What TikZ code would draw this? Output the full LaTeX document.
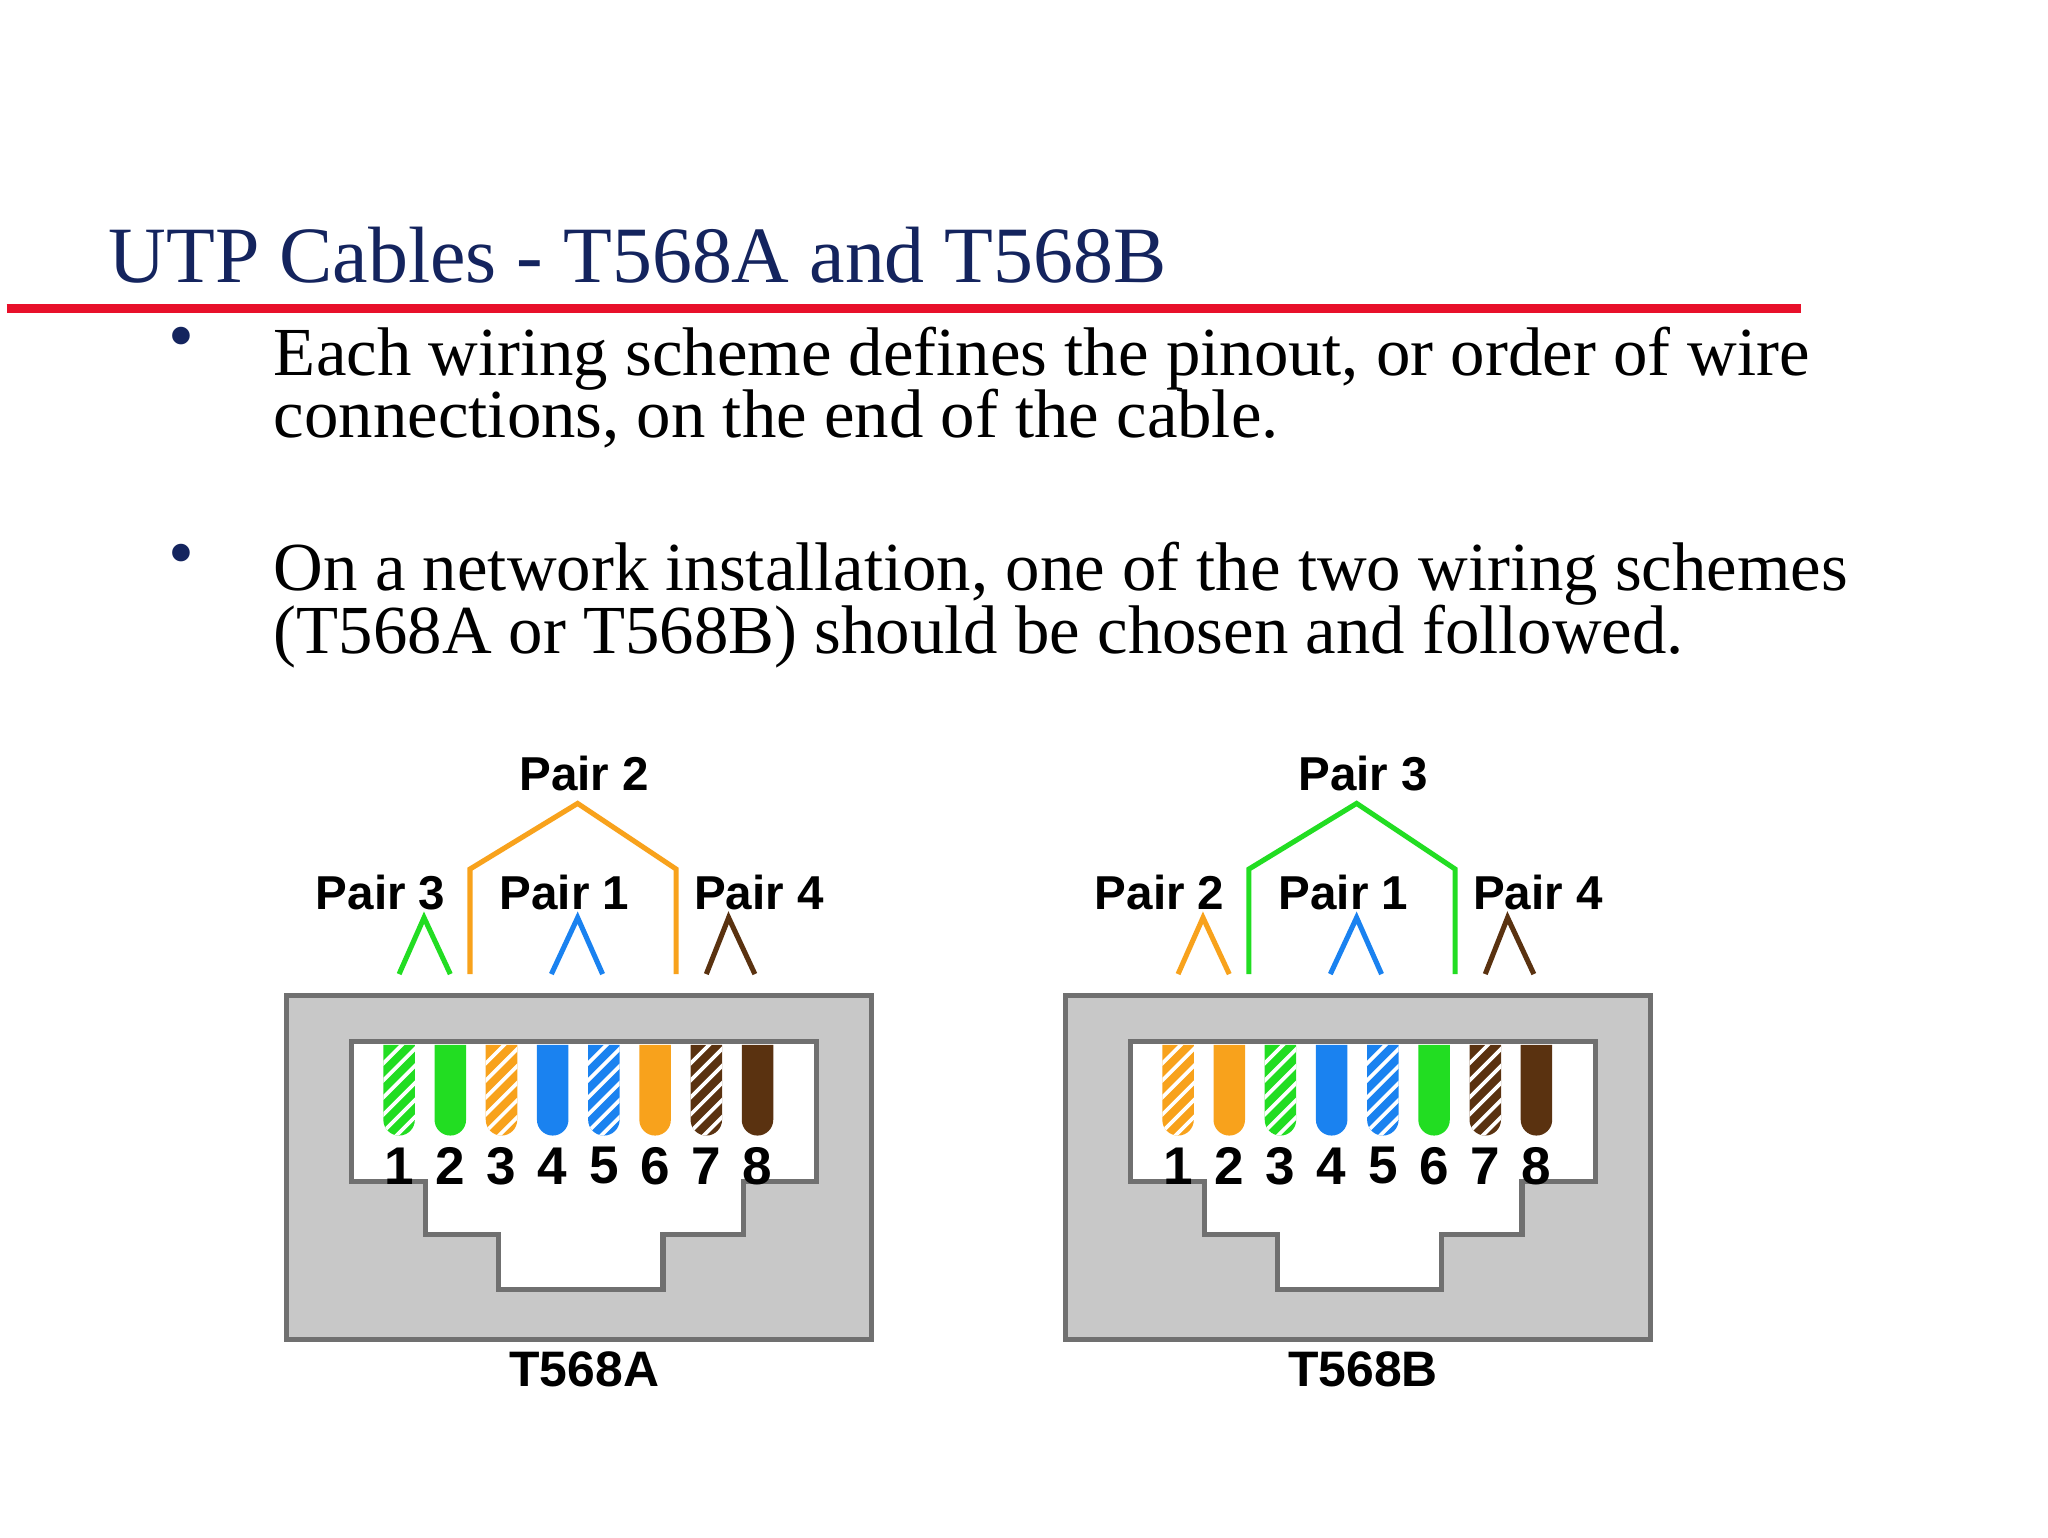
\documentclass[tikz,border=0pt]{standalone}
\usepackage{fontspec}
\setmainfont{Liberation Serif}
\newfontfamily\labelfont{Liberation Sans}
\definecolor{navy}{HTML}{14245E}
\definecolor{redline}{HTML}{E8102A}
\definecolor{wgreen}{HTML}{22DD22}
\definecolor{worange}{HTML}{F8A21C}
\definecolor{wblue}{HTML}{1A82F0}
\definecolor{wbrown}{HTML}{5A3210}
\definecolor{jackgray}{HTML}{C8C8C8}
\definecolor{jackedge}{HTML}{707070}
\tikzset{
  title_style/.style={anchor=base west, inner sep=0, text=navy, font=\fontsize{17.3}{20}\selectfont},
  body_style/.style={anchor=base west, inner sep=0, font=\fontsize{14.9}{15}\selectfont},
  bullet_style/.style={anchor=center, inner sep=0, text=navy, font=\fontsize{16}{16}\selectfont},
  pair_style/.style={inner sep=0, font=\labelfont\bfseries\fontsize{10.3}{10}\selectfont},
  num_style/.style={inner sep=0, font=\labelfont\bfseries\fontsize{11.5}{10}\selectfont},
  jack_style/.style={fill=jackgray, draw=jackedge, line width=1.1pt},
  hole_style/.style={fill=white, draw=jackedge, line width=1.1pt},
  pair_line/.style={line width=1.1pt}
}
% one jack: #1 name, #2 wire list (colour/striped), #3 left pair, #4 top pair, #5 label
\newcommand{\rjjack}[5]{
  \draw[jack_style] (218,758) rectangle (664,1020);
  \draw[hole_style] (268,793) -- (622,793) -- (622,900) -- (566,900) -- (566,940)
     -- (505,940) -- (505,982) -- (380,982) -- (380,940) -- (324,940) -- (324,900)
     -- (268,900) -- cycle;
  \foreach \col/\str [count=\i from 0] in {#2} {
    \pgfmathsetmacro{\cx}{304+\i*39}
    \fill[\col] (\cx-12,796) -- (\cx-12,853) arc (180:360:12 and -12) -- (\cx+12,796) -- cycle;
    \ifnum\str=1
      \begin{scope}
        \clip (\cx-12,796) -- (\cx-12,853) arc (180:360:12 and -12) -- (\cx+12,796) -- cycle;
        \foreach \k in {0,...,6}
          \draw[white, line width=0.8pt] (\cx-14,812+\k*13) -- (\cx+14,784+\k*13);
      \end{scope}
    \fi
    \node[num_style] (#1n\i) at (\cx,888) {\the\numexpr\i+1\relax};
  }
  \node[pair_style] (#1p3) at (290,680) {Pair #3};
  \node[pair_style] (#1p2) at (445,589) {Pair #4};
  \node[pair_style] (#1p1) at (430,680) {Pair 1};
  \node[pair_style] (#1p4) at (578,680) {Pair 4};
  \draw[pair_line, \rjleft] (304,742) -- (323,699) -- (343,742);
  \draw[pair_line, \rjtop] (358,742) -- (358,662) -- (440,612) -- (515,662) -- (515,742);
  \draw[pair_line, wblue] (420,742) -- (440,699) -- (459,742);
  \draw[pair_line, wbrown] (538,742) -- (555,699) -- (575,742);
  \node[pair_style, font=\labelfont\bfseries\fontsize{10.8}{10}\selectfont] (#1lab) at (445,1043) {#5};
}
\begin{document}
\begin{tikzpicture}[x=0.01cm, y=-0.01cm]
    \useasboundingbox[fill=white] (0,0) rectangle (1560,1171);

    \node[title_style] (title) at (82,215) {UTP Cables - T568A and T568B};
    \draw[redline, line width=2pt] (5,235) -- (1372,235);

    \node[bullet_style] (b1) at (138,262) {\textbullet};
    \node[body_style] (t1a) at (208,286) {Each wiring scheme defines the pinout, or order of wire};
    \node[body_style] (t1b) at (208,333) {connections, on the end of the cable.};
    \node[bullet_style] (b2) at (138,427) {\textbullet};
    \node[body_style] (t2a) at (208,450) {On a network installation, one of the two wiring schemes};
    \node[body_style] (t2b) at (208,498) {(T568A or T568B) should be chosen and followed.};

    \def\rjleft{wgreen}\def\rjtop{worange}
    \rjjack{a}{wgreen/1,wgreen/0,worange/1,wblue/0,wblue/1,worange/0,wbrown/1,wbrown/0}{3}{2}{T568A}

    \begin{scope}[xshift=5.93cm]
    \def\rjleft{worange}\def\rjtop{wgreen}
    \rjjack{b}{worange/1,worange/0,wgreen/1,wblue/0,wblue/1,wgreen/0,wbrown/1,wbrown/0}{2}{3}{T568B}
    \end{scope}
\end{tikzpicture}
\end{document}
